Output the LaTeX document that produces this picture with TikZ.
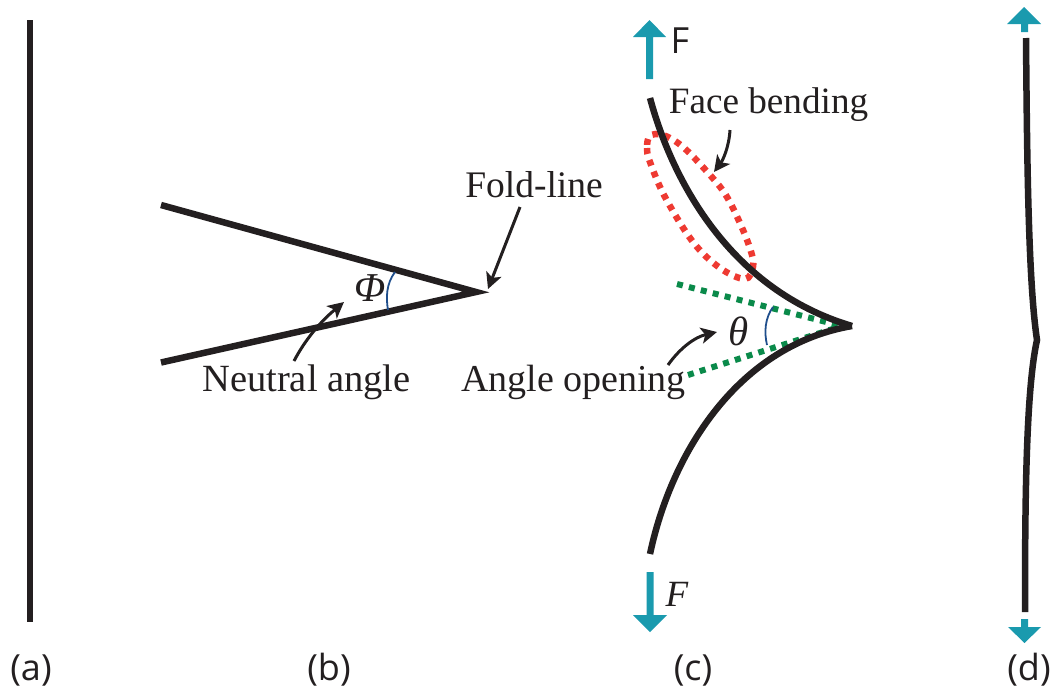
\documentclass[tikz,border=0pt]{standalone}
\usepackage{fontspec}
\setmainfont{Liberation Serif}
\newfontfamily\labelsans{Open Sans}
\usetikzlibrary{arrows.meta}
\definecolor{inkblack}{HTML}{231F20}
\definecolor{tealarrow}{HTML}{1A9AAE}
\definecolor{arcblue}{HTML}{1F4E8C}
\definecolor{dotgreen}{HTML}{0A8A4A}
\definecolor{dotred}{HTML}{EE3A32}
\tikzset{
  sheet/.style={draw=inkblack,line width=6.5pt,miter limit=20},
  anglearc/.style={draw=arcblue,line width=1.8pt},
  greendots/.style={draw=dotgreen,line width=6pt,dash pattern=on 6pt off 6.3pt},
  reddots/.style={draw=dotred,line width=6.5pt,dash pattern=on 6pt off 6.3pt},
  pointer/.style={draw=inkblack,line width=3pt,-{Stealth[length=16pt,width=16pt,inset=4pt]}},
  forcearrow/.style={fill=tealarrow,draw=none},
  serif/.style={text=inkblack,font=\fontsize{38}{38}\selectfont,inner sep=0pt},
  greek/.style={text=inkblack,font=\fontsize{41}{41}\selectfont\itshape,inner sep=0pt},
  panel/.style={text=inkblack,font=\labelsans\fontsize{36}{36}\selectfont,inner sep=0pt},
}
\begin{document}
\begin{tikzpicture}[x=1pt,y=-1pt]
\useasboundingbox (0,0) rectangle (1061,691);
% (a)
\draw[sheet] (30,20) -- (30,622);
% (b)
\draw[sheet,line join=miter] (161,205) -- (476,292) -- (161,362.5);
\draw[anglearc] (395,272) .. controls (386,284) and (386,298) .. (388,310);
\node[greek] (phi) at (370,288) {Φ};
\node[serif,font=\fontsize{37.5}{37.5}\selectfont] (fold) at (534,185) {Fold-line};
\node[serif,font=\fontsize{38.5}{38.5}\selectfont] (neutral) at (306.5,382) {Neutral angle};
\coordinate (foldtip) at (488,289);
\coordinate (foldstart) at (520,207);
\coordinate (neutralstart) at (294,361);
\coordinate (neutraltip) at (344,302);
\draw[pointer] (foldstart) -- (foldtip);
\draw[pointer] (neutralstart) .. controls (305,340) and (320,322) .. (neutraltip);
% (c)
\draw[reddots] plot[smooth cycle,tension=0.6] coordinates {(650,136) (647,148) (650,162) (665,197) (693,242) (720,268) (745,279) (753,267) (752,255) (743,230) (727,197) (710,175) (683,147) (663,135)};
\draw[greendots] (677,284) -- (842,326);
\draw[greendots] (688,375) -- (842,326);
\draw[sheet] (650,98) .. controls (672,180) and (730,290) .. (852,326);
\draw[sheet] (650,554) .. controls (672,450) and (740,345) .. (852,326);
\draw[anglearc] (773,307) .. controls (765,318) and (764,332) .. (767,345);
\node[greek] (theta) at (739,331) {θ};
\node[serif,font=\fontsize{37.2}{37.2}\selectfont] (face) at (768.5,105) {Face bending};
\node[serif,font=\fontsize{38}{38}\selectfont] (opening) at (573.5,382) {Angle opening};
\coordinate (facestart) at (730,130);
\coordinate (facetip) at (714,172);
\coordinate (openstart) at (668,365);
\coordinate (opentip) at (717,332);
\draw[pointer] (facestart) .. controls (729,147) and (723,160) .. (facetip);
\draw[pointer] (openstart) .. controls (680,348) and (695,337) .. (opentip);
\fill[forcearrow] (649.5,20) -- (666,37) -- (653,37) -- (653,79) -- (646,79) -- (646,37) -- (633,37) -- cycle;
\fill[forcearrow] (650,632) -- (667,615) -- (653.5,615) -- (653.5,572) -- (646.5,572) -- (646.5,615) -- (633,615) -- cycle;
\node[panel] (ftop) at (680,41) {F};
\node[greek,font=\fontsize{37}{37}\selectfont\itshape] (fbottom) at (677,594) {F};
% (d)
\draw[sheet,line join=miter] (1026,38) .. controls (1027,150) and (1028,280) .. (1037,340) .. controls (1026,390) and (1025,500) .. (1025,612);
\fill[forcearrow] (1024,7) -- (1041,24) -- (1028,24) -- (1028,32) -- (1021,32) -- (1021,24) -- (1007,24) -- cycle;
\fill[forcearrow] (1024.5,643) -- (1041,627) -- (1028,627) -- (1028,619) -- (1021,619) -- (1021,627) -- (1008,627) -- cycle;
% panel labels
\node[panel] (la) at (31,670) {(a)};
\node[panel] (lb) at (329,670) {(b)};
\node[panel] (lc) at (693,670) {(c)};
\node[panel] (ld) at (1029,670) {(d)};
\end{tikzpicture}
\end{document}
